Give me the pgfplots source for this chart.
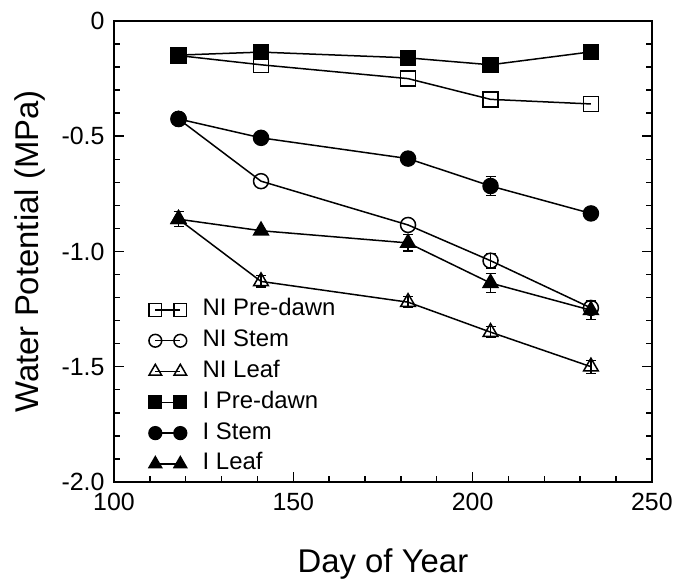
\documentclass[border=0pt]{standalone}
\usepackage{pgfplots}
\pgfplotsset{compat=1.18}
\usepackage{fontspec}
\setmainfont{Liberation Sans}

\begin{document}
\begin{tikzpicture}
\begin{axis}[
    scale only axis,
    width=538bp, height=461bp,
    xmin=100, xmax=250,
    ymin=-2, ymax=0,
    xtick={100,150,200,250},
    xticklabels={100,150,200,250},
    ytick={-2,-1.5,-1,-0.5,0},
    yticklabels={-2.0,-1.5,-1.0,-0.5,0},
    minor x tick num=4,
    minor y tick num=4,
    tick align=inside,
    xtick pos=bottom,
    ytick pos=both,
    major tick length=10bp,
    minor tick length=6bp,
    every tick/.style={black, line width=1.5bp},
    axis line style={line width=2bp},
    xticklabel style={font=\fontsize{25}{30}\selectfont, yshift=-8bp},
    yticklabel style={font=\fontsize{25}{30}\selectfont, xshift=-6bp},
    xlabel={Day of Year},
    ylabel={Water Potential (MPa)},
    label style={font=\fontsize{33}{40}\selectfont},
    xlabel style={at={(axis description cs:0.5,0)}, anchor=base, yshift=-91bp},
    ylabel style={at={(axis description cs:0,0.5)}, anchor=center, yshift=84bp},
    every axis plot/.append style={black, line width=1.5bp},
    error bars/error bar style={line width=1.2bp},
    error bars/error mark options={rotate=90, mark size=5bp, line width=1.2bp},
    legend cell align=left,
    legend image code/.code={
        \draw[#1, every mark/.append style={scale=0.85}] plot coordinates {(0bp,0bp) (25bp,0bp)};
    },
    legend style={
        at={(axis description cs:0.065,0.397)}, anchor=north west,
        draw=none, fill=none, inner sep=0pt, outer sep=0pt,
        font=\fontsize{24}{28}\selectfont,
        row sep=8.8bp,
        nodes={inner sep=0pt, text height=17bp, text depth=5bp},
        /tikz/every odd column/.append style={column sep=16bp},
    },
]

% non-irrigated
\addplot[mark=square, mark size=7.5bp, mark options={fill=white}]
    coordinates {(118,-0.15) (141,-0.19) (182,-0.25) (205,-0.34) (233,-0.36)};
\addlegendentry{NI Pre-dawn}

\addplot[mark=o, mark size=7.5bp, mark options={fill=white},
    error bars/.cd, y dir=both, y explicit]
    coordinates {(118,-0.425) (141,-0.695) (182,-0.885) (205,-1.04) +- (0,0.032) (233,-1.245) +- (0,0.03)};
\addlegendentry{NI Stem}

\addplot[mark=triangle, mark size=8.5bp, mark options={fill=white},
    error bars/.cd, y dir=both, y explicit]
    coordinates {(118,-0.86) (141,-1.13) +- (0,0.024) (182,-1.22) +- (0,0.024) (205,-1.35) +- (0,0.024) (233,-1.50) +- (0,0.028)};
\addlegendentry{NI Leaf}

% irrigated
\addplot[mark=square*, mark size=7.5bp, mark options={fill=black}]
    coordinates {(118,-0.148) (141,-0.135) (182,-0.16) (205,-0.19) (233,-0.134)};
\addlegendentry{I Pre-dawn}

\addplot[mark=*, mark size=7.5bp, mark options={fill=black},
    error bars/.cd, y dir=both, y explicit]
    coordinates {(118,-0.425) (141,-0.507) (182,-0.597) (205,-0.716) +- (0,0.04) (233,-0.835) +- (0,0.025)};
\addlegendentry{I Stem}

\addplot[mark=triangle*, mark size=8.5bp, mark options={fill=black},
    error bars/.cd, y dir=both, y explicit]
    coordinates {(118,-0.86) +- (0,0.032) (141,-0.91) (182,-0.963) +- (0,0.035) (205,-1.137) +- (0,0.04) (233,-1.255) +- (0,0.04)};
\addlegendentry{I Leaf}

\end{axis}
\path (-114bp,-95bp) rectangle (562bp,482bp);
\end{tikzpicture}
\end{document}
